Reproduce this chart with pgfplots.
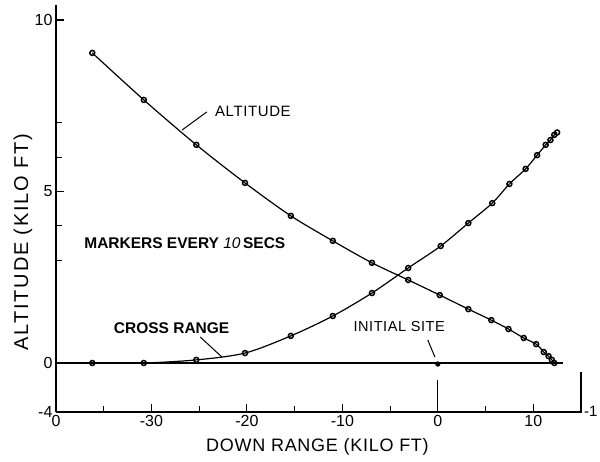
\documentclass[border=0pt]{standalone}
\usepackage{fontspec}
\setmainfont{Liberation Sans}
\newfontfamily\spaced[LetterSpace=9]{Liberation Sans}
\newfontfamily\lsp[LetterSpace=4]{Liberation Sans}
\usepackage{pgfplots}
\pgfplotsset{compat=1.18}
\pgfplotstableread{
x y
-36.2 9.04
-30.8 7.67
-25.3 6.36
-20.2 5.25
-15.4 4.29
-11.0 3.56
-6.9 2.92
-3.1 2.42
0.2 1.98
3.2 1.57
5.6 1.25
7.4 0.99
9.0 0.73
10.3 0.55
11.1 0.32
11.6 0.20
11.95 0.09
12.2 0.00
}\altitude
\pgfplotstableread{
x y
-36.2 0
-30.8 0
-25.3 0.09
-20.2 0.29
-15.4 0.79
-11.0 1.37
-6.9 2.04
-3.1 2.77
0.3 3.41
3.2 4.08
5.7 4.66
7.5 5.22
9.2 5.66
10.4 6.06
11.3 6.36
11.8 6.50
12.2 6.65
12.5 6.72
}\cross
\begin{document}
\begin{tikzpicture}
\useasboundingbox (0,0) rectangle (600pt,462pt);
\begin{axis}[
  at={(56pt,50pt)}, anchor=south west,
  scale only axis, width=525pt, height=407pt,
  xmin=-40, xmax=15, ymin=-1.4286, ymax=10.437,
  axis x line=bottom, axis y line=left,
  axis line style={-, line width=1.1pt},
  clip=false,
  xtick={-40,-30,-20,-10,0,10},
  xticklabels={0,-30,-20,-10,0,10},
  minor xtick={-35,-25,-15,-5,5},
  ytick={-1.4286,0,5,10},
  yticklabels={-4,0,5,10},
  minor ytick={3,4,6,7},
  tick align=inside,
  major tick length=8pt, minor tick length=6pt,
  tick style={black, line width=1.1pt},
  ticklabel style={font=\fontsize{16}{16}\selectfont},
  xlabel={\lsp DOWN RANGE (KILO FT)},
  xlabel style={at={(axis description cs:0.498,-0.086)}, anchor=center, font=\fontsize{18}{18}\selectfont},
  ylabel={\spaced ALTITUDE (KILO FT)},
  ylabel style={at={(axis description cs:-0.063,0.418)}, anchor=center, font=\fontsize{20}{20}\selectfont},
]
% baseline (zero cross range)
\addplot[black, line width=1.2pt] coordinates {(-40,0) (13.1,0)};
% initial site vertical and right end line
\addplot[black, line width=1.1pt] coordinates {(0,-1.4286) (0,-0.5)};
\addplot[black, line width=1.1pt] coordinates {(15,-1.47) (15,-0.26)};
% curves
\addplot[black, line width=1.2pt, smooth, mark=o, mark size=2.5pt, mark options={line width=1.5pt, fill=white}] table {\altitude};
\addplot[black, line width=1.2pt, smooth, mark=o, mark size=2.5pt, mark options={line width=1.5pt, fill=white}] table {\cross};
% initial site marker
\addplot[only marks, black, mark=*, mark size=2.4pt] coordinates {(0,-0.03)};
% annotations
\node[anchor=west, font=\fontsize{15}{15}\selectfont] at (axis cs:-23.7,7.32) {\lsp ALTITUDE};
\draw[line width=1pt] (axis cs:-26.8,6.79) -- (axis cs:-24.2,7.32);
\node[anchor=west, font=\bfseries\fontsize{15.5}{15.5}\selectfont] at (axis cs:-37.4,3.5) {MARKERS EVERY {\itshape\mdseries 10}\,SECS};
\node[anchor=west, font=\bfseries\fontsize{15.5}{15.5}\selectfont] at (axis cs:-34.3,1.02) {CROSS RANGE};
\draw[line width=1pt] (axis cs:-24.9,0.76) -- (axis cs:-22.6,0.17);
\node[anchor=west, font=\fontsize{14.5}{14.5}\selectfont] at (axis cs:-9.2,1.05) {\lsp INITIAL SITE};
\draw[line width=1pt] (axis cs:-1.05,0.67) -- (axis cs:-0.3,0.17);
\node[anchor=west, inner sep=1pt, font=\fontsize{15}{15}\selectfont] at (axis cs:15.2,-1.42) {-1};
\end{axis}
\end{tikzpicture}
\end{document}
